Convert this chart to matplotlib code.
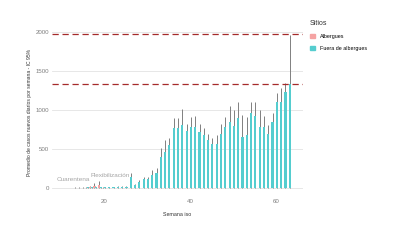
import numpy as np
import matplotlib
matplotlib.use('Agg')
from matplotlib import pyplot as plt
from matplotlib.patches import Patch

plt.rcParams['font.family'] = ['Liberation Sans', 'DejaVu Sans']

weeks = list(range(11, 64))

# Fuera de albergues: promedio y limite superior del IC 95%
fuera = [3, 5, 6, 8, 8, 10, 12, 10, 14, 12, 15, 14, 16, 18, 20,
         150, 45, 75, 120, 115, 165, 190, 400, 470, 550,
         770, 770, 810, 730, 780, 780, 720, 680, 620, 570, 570,
         700, 780, 850, 800, 900, 660, 680, 960, 930, 780, 790,
         700, 850, 1100, 1110, 1230, 1340]
fuera_sup = [6, 9, 10, 12, 12, 15, 18, 15, 20, 18, 22, 20, 24, 26, 30,
             195, 60, 100, 150, 140, 235, 260, 515, 620, 650,
             900, 900, 1010, 820, 910, 930, 830, 770, 700, 650, 680,
             830, 910, 1060, 1000, 1100, 940, 910, 1110, 1110, 1000, 920,
             810, 970, 1220, 1280, 1350, 1970]

# Albergues
alb = [0, 1, 1, 2, 3, 5, 20, 35, 40, 6, 4, 3, 3, 2, 2,
       2, 1, 1, 1, 1, 1, 1, 1, 1, 1,
       1, 1, 1, 1, 1, 1, 1, 1, 1, 1, 1,
       1, 1, 1, 1, 1, 1, 1, 1, 1, 1, 1,
       1, 1, 1, 1, 1, 1]
alb_sup = [0, 2, 2, 4, 6, 10, 30, 65, 90, 12, 8, 6, 6, 4, 4,
           4, 2, 2, 2, 2, 2, 2, 2, 2, 2,
           2, 2, 2, 2, 2, 2, 2, 2, 2, 2, 2,
           2, 2, 2, 2, 2, 2, 2, 2, 2, 2, 2,
           2, 2, 2, 2, 2, 2]

umbrales = [1333, 1974]
anotaciones = [('Cuarentena', 12.8, 85), ('Flexibilización', 21.5, 130)]

col_alb = '#F5A3A3'
col_fuera = '#55CDCF'
col_err = '#808080'

fig = plt.figure(figsize=(4, 2.4), dpi=100)
ax = fig.add_axes([0.13, 0.183, 0.6275, 0.699])

w = np.array(weeks, dtype=float)
bw = 0.5
off = 0.22
ax.vlines(w - off, 0, alb_sup, color=col_err, lw=0.7, zorder=1)
ax.vlines(w + off, 0, fuera_sup, color=col_err, lw=0.7, zorder=1)
ax.bar(w - off, alb, width=bw, color=col_alb, zorder=2)
ax.bar(w + off, fuera, width=bw, color=col_fuera, zorder=2)

for u in umbrales:
    ax.axhline(u, color='#A52A2A', lw=0.9, ls=(0, (5, 3)), zorder=3)

for txt, xw, yv in anotaciones:
    ax.text(xw, yv, txt, ha='center', va='bottom', fontsize=4.6, color='#A6A6A6')

ax.set_xlim(7.9, 66.3)
ax.set_ylim(-100, 2050)
ax.set_xticks([20, 40, 60])
ax.set_yticks([0, 500, 1000, 1500, 2000])
ax.grid(axis='y', color='#E3E3E3', lw=0.6)
ax.set_axisbelow(True)
for s in ax.spines.values():
    s.set_visible(False)
ax.tick_params(length=0, labelsize=4.4, labelcolor='#7F7F7F', pad=2)
ax.set_xlabel('Semana iso', fontsize=3.8, color='#333333', labelpad=6)
ax.set_ylabel('Promedio de casos nuevos diarios por semana - IC 95%',
              fontsize=3.6, color='#333333', labelpad=3)

handles = [Patch(color=col_alb, label='Albergues'),
           Patch(color=col_fuera, label='Fuera de albergues')]
leg = fig.legend(handles=handles, title='Sitios', loc='upper left',
                 bbox_to_anchor=(0.762, 0.935), frameon=False,
                 fontsize=3.9, title_fontsize=5, handlelength=0.9,
                 handleheight=0.9, labelspacing=1.2, handletextpad=1.0)
leg._legend_box.align = 'left'
leg.get_title().set_color('#333333')

fig.savefig('out.png', dpi=100)
